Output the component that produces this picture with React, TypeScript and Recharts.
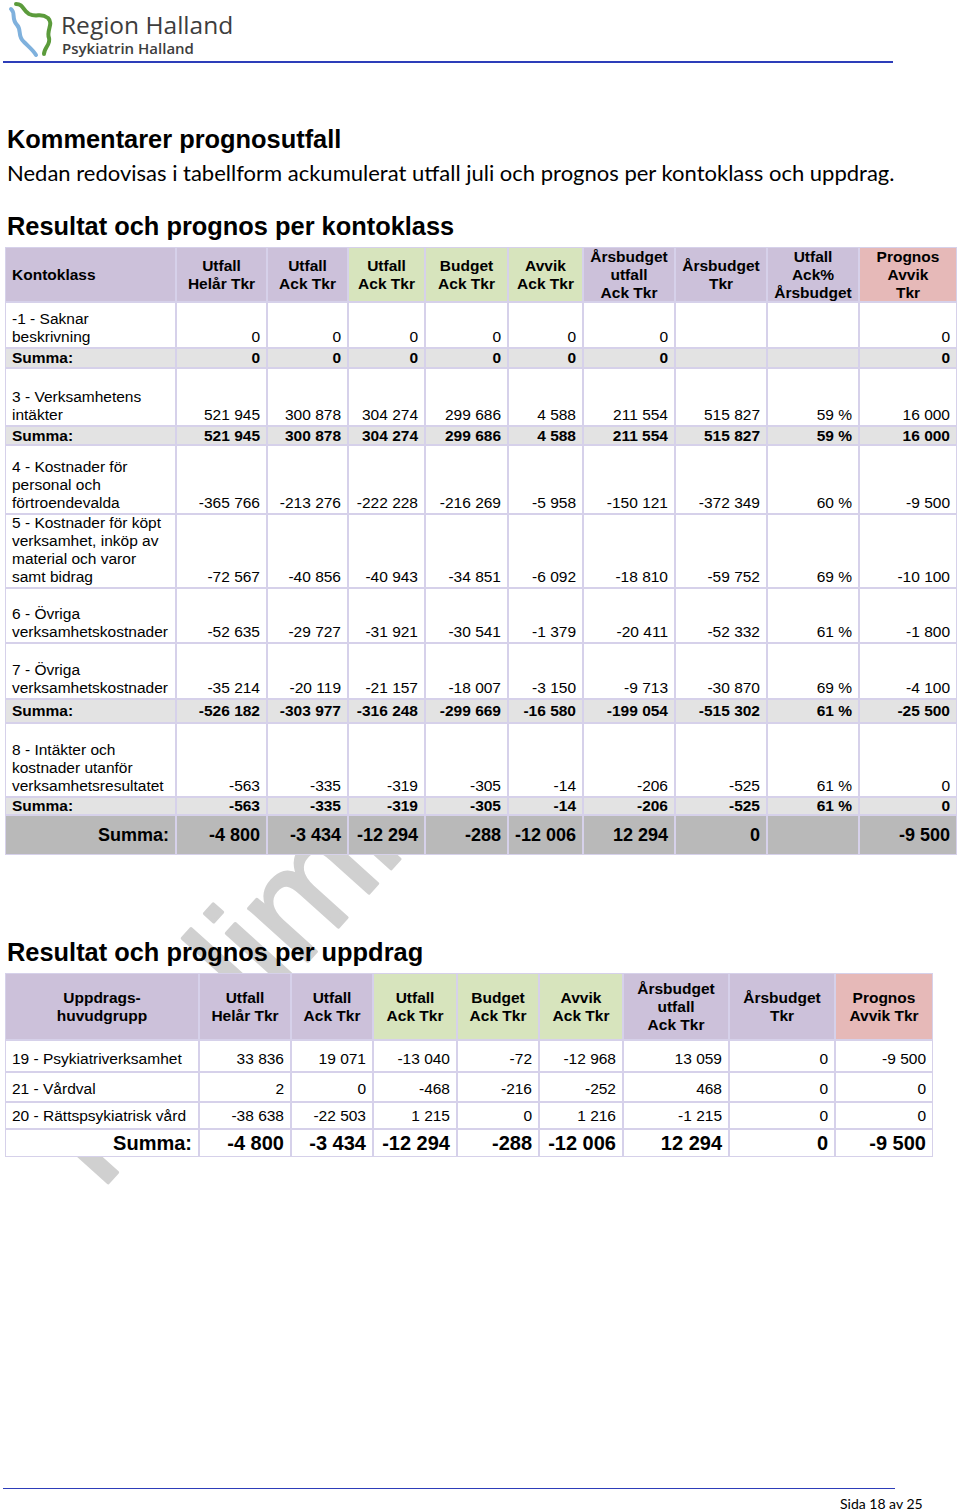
import { Surface, Text } from "recharts";

const BODY_FONT = '"Liberation Sans", Arial, sans-serif';
const CAL_FONT = 'Lato, "Open Sans", sans-serif';
const BORDER = "#d6d1ea";
const PURPLE = "#ccc1da";
const GREEN = "#d7e4bd";
const PINK = "#e6b9b8";
const SUM_BG = "#e3e3e3";
const TOTAL_BG = "#b9b9b9";
const FS = 15.5;

// ---- kontoklass table data ----
const kontoHeaders = [
  "Kontoklass",
  "Utfall\nHelår Tkr",
  "Utfall\nAck Tkr",
  "Utfall\nAck Tkr",
  "Budget\nAck Tkr",
  "Avvik\nAck Tkr",
  "Årsbudget\nutfall\nAck Tkr",
  "Årsbudget\nTkr",
  "Utfall\nAck%\nÅrsbudget",
  "Prognos\nAvvik\nTkr",
];
const kontoLabels = [
  "-1 - Saknar\nbeskrivning",
  "Summa:",
  "3 - Verksamhetens\nintäkter",
  "Summa:",
  "4 - Kostnader för\npersonal och\nförtroendevalda",
  "5 - Kostnader för köpt\nverksamhet, inköp av\nmaterial och varor\nsamt bidrag",
  "6 - Övriga\nverksamhetskostnader",
  "7 - Övriga\nverksamhetskostnader",
  "Summa:",
  "8 - Intäkter och\nkostnader utanför\nverksamhetsresultatet",
  "Summa:",
  "Summa:",
];
const kontoKinds = ["row", "sum", "row", "sum", "row", "row", "row", "row", "sum", "row", "sum", "total"];
const utfallHelar = [0, 0, 521945, 521945, -365766, -72567, -52635, -35214, -526182, -563, -563, -4800];
const utfallAck = [0, 0, 300878, 300878, -213276, -40856, -29727, -20119, -303977, -335, -335, -3434];
const utfallAckPeriod = [0, 0, 304274, 304274, -222228, -40943, -31921, -21157, -316248, -319, -319, -12294];
const budgetAck = [0, 0, 299686, 299686, -216269, -34851, -30541, -18007, -299669, -305, -305, -288];
const avvikAck = [0, 0, 4588, 4588, -5958, -6092, -1379, -3150, -16580, -14, -14, -12006];
const arsbudgetUtfall = [0, 0, 211554, 211554, -150121, -18810, -20411, -9713, -199054, -206, -206, 12294];
const arsbudget = [null, null, 515827, 515827, -372349, -59752, -52332, -30870, -515302, -525, -525, 0];
const utfallProcent = [null, null, 59, 59, 60, 69, 61, 69, 61, 61, 61, null];
const prognosAvvik = [0, 0, 16000, 16000, -9500, -10100, -1800, -4100, -25500, 0, 0, -9500];

// ---- uppdrag table data ----
const uppdragHeaders = [
  "Uppdrags-\nhuvudgrupp",
  "Utfall\nHelår Tkr",
  "Utfall\nAck Tkr",
  "Utfall\nAck Tkr",
  "Budget\nAck Tkr",
  "Avvik\nAck Tkr",
  "Årsbudget\nutfall\nAck Tkr",
  "Årsbudget\nTkr",
  "Prognos\nAvvik Tkr",
];
const uppdragLabels = ["19 - Psykiatriverksamhet", "21 - Vårdval", "20 - Rättspsykiatrisk vård", "Summa:"];
const uppdragKinds = ["row", "row", "row", "total"];
const uHelar = [33836, 2, -38638, -4800];
const uAck = [19071, 0, -22503, -3434];
const uAckPeriod = [-13040, -468, 1215, -12294];
const uBudget = [-72, -216, 0, -288];
const uAvvik = [-12968, -252, 1216, -12006];
const uArsUtfall = [13059, 468, -1215, 12294];
const uArsbudget = [0, 0, 0, 0];
const uPrognos = [-9500, 0, 0, -9500];

// layout
const kontoCols = [5, 176, 267, 348, 425, 508, 583, 675, 767, 859, 957];
const kontoHeaderColors = [PURPLE, PURPLE, PURPLE, GREEN, GREEN, GREEN, PURPLE, PURPLE, PURPLE, PINK];
const kontoRowH = [46, 20, 58, 19, 69, 74, 55, 56, 24, 74, 18, 40];
const uppCols = [5, 199, 291, 373, 457, 539, 623, 729, 835, 933];
const uppHeaderColors = [PURPLE, PURPLE, PURPLE, GREEN, GREEN, GREEN, PURPLE, PURPLE, PINK];
const uppRowH = [32, 30, 27, 28];

function fmt(n: number | null) {
  if (n === null || n === undefined) return "";
  const s = Math.abs(n).toString().replace(/\B(?=(\d{3})+(?!\d))/g, " ");
  return (n < 0 ? "-" : "") + s;
}
const pct = (n: number | null) => (n === null ? "" : `${n} %`);

type TableProps = {
  top: number;
  cols: number[];
  headerH: number;
  headers: string[];
  headerColors: string[];
  firstHeaderLeft: boolean;
  labels: string[];
  kinds: string[];
  rowH: number[];
  columns: string[][];
  totalSize: number;
  totalBg: string;
  rowPad: number;
};

function Lines({ text }: { text: string }) {
  return (
    <>
      {text.split("\n").map((t, i) => (
        <div key={i} style={{ whiteSpace: "nowrap" }}>
          {t}
        </div>
      ))}
    </>
  );
}

function Table(p: TableProps) {
  const left = p.cols[0];
  const width = p.cols[p.cols.length - 1] - left;
  const height = p.headerH + p.rowH.reduce((a, b) => a + b, 0);
  const cells: any[] = [];
  const cell = (key: string, x0: number, x1: number, y: number, h: number, bg: string, style: any, content: any) => {
    cells.push(
      <div
        key={key}
        style={{
          position: "absolute",
          left: x0 - left + 1,
          top: y + 1,
          width: x1 - x0 - 2,
          height: h - 2,
          background: bg,
          boxSizing: "border-box",
          display: "flex",
          flexDirection: "column",
          ...style,
        }}
      >
        {content}
      </div>
    );
  };
  p.headers.forEach((h, i) => {
    const isFirstLeft = i === 0 && p.firstHeaderLeft;
    cell(
      "h" + i,
      p.cols[i],
      p.cols[i + 1],
      0,
      p.headerH,
      p.headerColors[i],
      {
        justifyContent: "center",
        alignItems: isFirstLeft ? "flex-start" : "center",
        textAlign: isFirstLeft ? "left" : "center",
        paddingLeft: isFirstLeft ? 6 : 0,
        fontWeight: "bold",
        fontSize: FS,
        lineHeight: "18px",
      },
      <Lines text={h} />
    );
  });
  let y = p.headerH;
  p.labels.forEach((label, r) => {
    const kind = p.kinds[r];
    const h = p.rowH[r];
    const bg = kind === "sum" ? SUM_BG : kind === "total" ? p.totalBg : "#ffffff";
    const bold = kind !== "row";
    const fs = kind === "total" ? p.totalSize : FS;
    const base = {
      justifyContent: kind === "row" ? "flex-end" : "center",
      fontWeight: bold ? "bold" : "normal",
      fontSize: fs,
      lineHeight: kind === "total" ? `${fs + 4}px` : "18px",
      paddingBottom: kind === "row" ? p.rowPad : 0,
    };
    cell(
      `l${r}`,
      p.cols[0],
      p.cols[1],
      y,
      h,
      bg,
      {
        ...base,
        alignItems: kind === "total" ? "flex-end" : "flex-start",
        paddingLeft: 6,
        paddingRight: 6,
      },
      <Lines text={label} />
    );
    p.columns.forEach((col, c) => {
      cell(
        `c${r}-${c}`,
        p.cols[c + 1],
        p.cols[c + 2],
        y,
        h,
        bg,
        { ...base, alignItems: "flex-end", paddingRight: 6 },
        <div style={{ whiteSpace: "nowrap" }}>{col[r]}</div>
      );
    });
    y += h;
  });
  return (
    <div
      style={{
        position: "absolute",
        left,
        top: p.top,
        width,
        height,
        background: BORDER,
        fontFamily: BODY_FONT,
        color: "#000",
        zIndex: 1,
      }}
    >
      {cells}
    </div>
  );
}

function Logo() {
  return (
    <svg width={60} height={60} style={{ position: "absolute", left: 2, top: 0 }}>
      <path
        d="M9,9 C14,13 9,19 15,25 C20,30 15,36 22,42 C27,47 31,50 34,55"
        stroke="#7fb1dd"
        strokeWidth={4}
        fill="none"
        strokeLinecap="round"
      />
      <path
        d="M14,4 C22,4 20,10 27,14 C36,18 38,12 46,18 C52,24 44,30 47,38 C49,44 42,48 42,54"
        stroke="#5b9b3b"
        strokeWidth={4}
        fill="none"
        strokeLinecap="round"
      />
    </svg>
  );
}

export default function App() {
  const kontoColumns = [
    utfallHelar.map(fmt),
    utfallAck.map(fmt),
    utfallAckPeriod.map(fmt),
    budgetAck.map(fmt),
    avvikAck.map(fmt),
    arsbudgetUtfall.map(fmt),
    arsbudget.map(fmt),
    utfallProcent.map(pct),
    prognosAvvik.map(fmt),
  ];
  const uppColumns = [uHelar, uAck, uAckPeriod, uBudget, uAvvik, uArsUtfall, uArsbudget, uPrognos].map((a) => a.map(fmt));

  return (
    <div
      style={{
        position: "absolute",
        left: 0,
        top: 0,
        width: 960,
        height: 1511,
        background: "#ffffff",
        overflow: "hidden",
        fontFamily: BODY_FONT,
      }}
    >
      {/* watermark, behind the tables */}
      <div style={{ position: "absolute", left: 0, top: 0, zIndex: 0 }}>
        <Surface width={960} height={1511} viewBox={{ x: 0, y: 0, width: 960, height: 1511 }}>
          <Text
            x={100}
            y={1192}
            angle={-48}
            textAnchor="start"
            verticalAnchor="end"
            fontSize={150}
            fontWeight="normal"
            fontFamily={BODY_FONT}
            fill="#d0d0d0"
            stroke="#d0d0d0"
            strokeWidth={3}
            strokeLinejoin="round"
          >
            Preliminär
          </Text>
        </Surface>
      </div>

      <Logo />
      <div
        style={{
          position: "absolute",
          left: 61,
          top: 10,
          fontFamily: '"Open Sans", sans-serif',
          fontWeight: 500,
          fontSize: 24.5,
          color: "#3d3d3d",
          lineHeight: "30px",
          zIndex: 1,
        }}
      >
        Region Halland
      </div>
      <div
        style={{
          position: "absolute",
          left: 62,
          top: 38,
          fontFamily: '"Open Sans", sans-serif',
          fontWeight: 600,
          fontSize: 15,
          color: "#3d3d3d",
          lineHeight: "20px",
          zIndex: 1,
        }}
      >
        Psykiatrin Halland
      </div>
      <div style={{ position: "absolute", left: 3, top: 61, width: 890, height: 2, background: "#2d3db9" }} />

      <div style={{ position: "absolute", left: 7, top: 123, fontSize: 25.4, fontWeight: "bold", lineHeight: "32px", zIndex: 1 }}>
        Kommentarer prognosutfall
      </div>
      <div style={{ position: "absolute", left: 7, top: 159, fontFamily: CAL_FONT, fontSize: 22, lineHeight: "28px", zIndex: 1, whiteSpace: "nowrap" }}>
        Nedan redovisas i tabellform ackumulerat utfall juli och prognos per kontoklass och uppdrag.
      </div>
      <div style={{ position: "absolute", left: 7, top: 210, fontSize: 25.4, fontWeight: "bold", lineHeight: "32px", zIndex: 1 }}>
        Resultat och prognos per kontoklass
      </div>

      <Table
        top={247}
        cols={kontoCols}
        headerH={55}
        headers={kontoHeaders}
        headerColors={kontoHeaderColors}
        firstHeaderLeft={true}
        labels={kontoLabels}
        kinds={kontoKinds}
        rowH={kontoRowH}
        columns={kontoColumns}
        totalSize={18}
        totalBg={TOTAL_BG}
        rowPad={1}
      />

      <div style={{ position: "absolute", left: 7, top: 936, fontSize: 25.4, fontWeight: "bold", lineHeight: "32px", zIndex: 1 }}>
        Resultat och prognos per uppdrag
      </div>

      <Table
        top={973}
        cols={uppCols}
        headerH={67}
        headers={uppdragHeaders}
        headerColors={uppHeaderColors}
        firstHeaderLeft={false}
        labels={uppdragLabels}
        kinds={uppdragKinds}
        rowH={uppRowH}
        columns={uppColumns}
        totalSize={20}
        totalBg="#ffffff"
        rowPad={3}
      />

      <div style={{ position: "absolute", left: 3, top: 1488, width: 892, height: 1, background: "#2d3db9" }} />
      <div style={{ position: "absolute", left: 840, top: 1495, fontFamily: CAL_FONT, fontSize: 14, lineHeight: "18px" }}>
        Sida 18 av 25
      </div>
    </div>
  );
}
